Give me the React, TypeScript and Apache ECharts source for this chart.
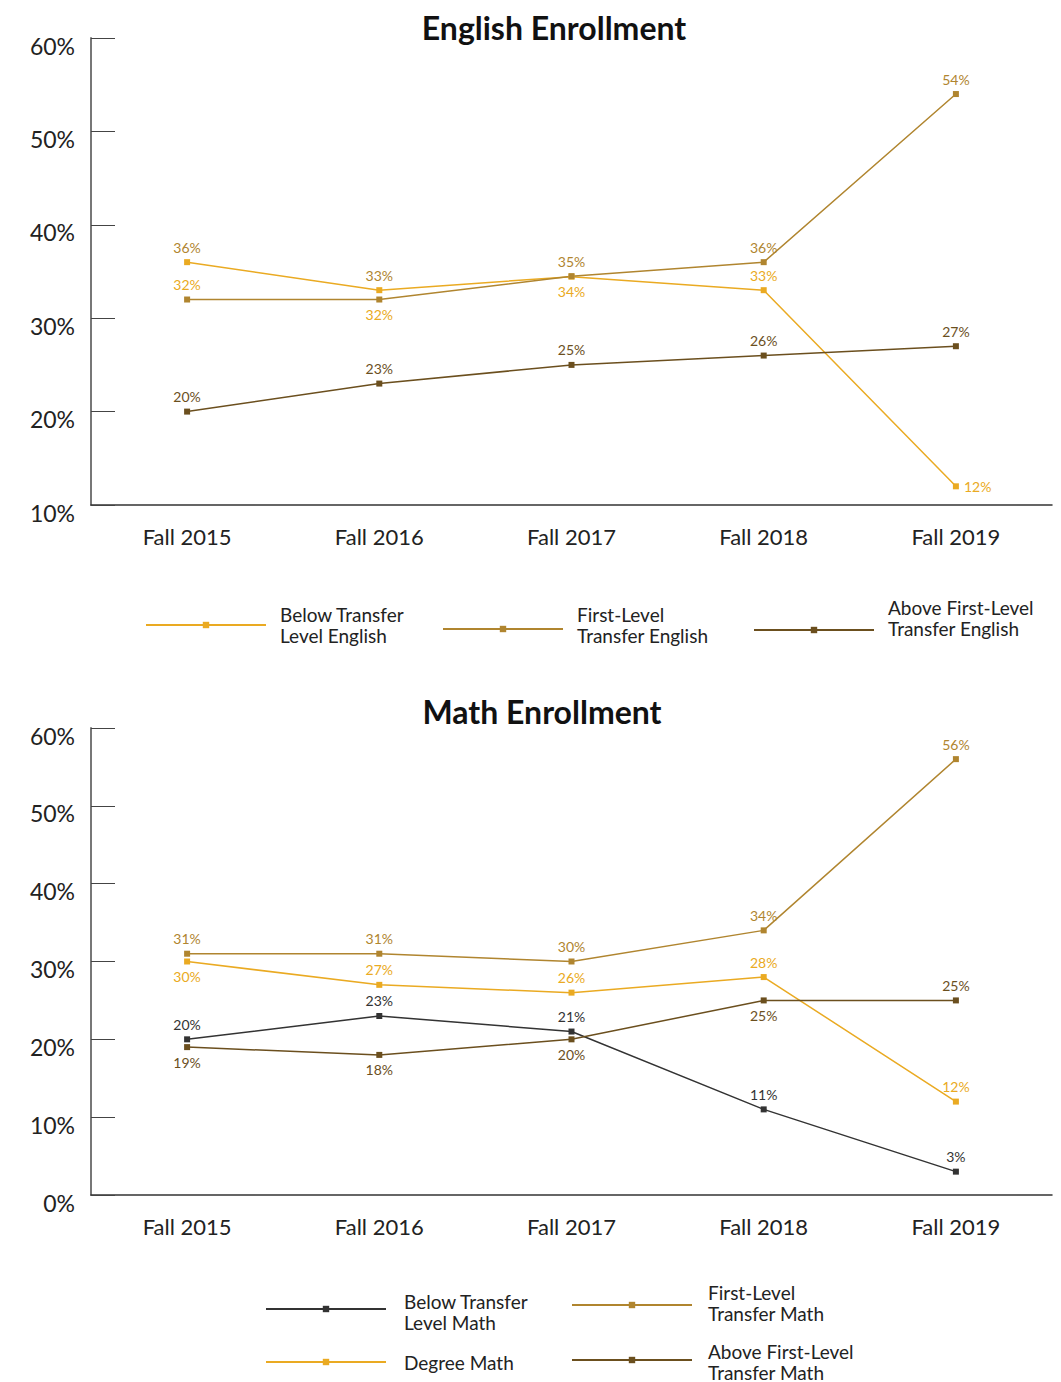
import React, { useEffect, useRef } from "react";
import * as echarts from "echarts";

const categories = ["Fall 2015", "Fall 2016", "Fall 2017", "Fall 2018", "Fall 2019"];

// English enrollment (%)
const belowTransferEnglish = [36, 33, 34.45, 33, 12];
const firstLevelEnglish = [32, 32, 34.5, 36, 54];
const aboveFirstLevelEnglish = [20, 23, 25, 26, 27];

// Math enrollment (%)
const belowTransferMath = [20, 23, 21, 11, 3];
const degreeMath = [30, 27, 26, 28, 12];
const firstLevelMath = [31, 31, 30, 34, 56];
const aboveFirstLevelMath = [19, 18, 20, 25, 25];

// label placement per point
const belowEngPos = ["top", "top", "bottom", "top", "right"];
const firstEngPos = ["top", "bottom", "top", "top", "top"];
const degreeMathPos = ["bottom", "top", "top", "top", "top"];
const aboveMathPos = ["bottom", "bottom", "bottom", "bottom", "top"];

const YELLOW = "#EAAA22";
const GOLD = "#B0852F";
const BROWN = "#6B4F1E";
const GRAY = "#333333";
const FONT = "Lato";

const fmt = (p: any) => Math.round(p.value) + "%";

function buildData(vals: number[], pos?: string[], colors?: (string | null)[]) {
  return vals.map((v, i) => {
    const label: any = {};
    if (pos) label.position = pos[i];
    if (colors && colors[i]) label.color = colors[i];
    return { value: v, label };
  });
}

function lineSeries(name: string, color: string, data: any[], xi: number) {
  return {
    name,
    type: "line",
    xAxisIndex: xi,
    yAxisIndex: xi,
    data,
    symbol: "rect",
    symbolSize: 6,
    lineStyle: { color, width: 1.5 },
    itemStyle: { color },
    label: {
      show: true,
      position: "top",
      distance: 5,
      formatter: fmt,
      color,
      fontFamily: FONT,
      fontSize: 14,
    },
  };
}

const displayNames: Record<string, string> = {
  "Below Transfer Level English": "Below Transfer\nLevel English",
  "First-Level Transfer English": "First-Level\nTransfer English\n{s9| }",
  "Above First-Level Transfer English": "Above First-Level\nTransfer English\n{s24| }",
  "Below Transfer Level Math": "{s5| }\nBelow Transfer\nLevel Math",
  "Degree Math": "Degree Math",
  "First-Level Transfer Math": "First-Level\nTransfer Math\n{s5| }",
  "Above First-Level Transfer Math": "{s3| }\nAbove First-Level\nTransfer Math",
};

const spacers: any = {
  s3: { lineHeight: 3, fontSize: 2 },
  s5: { lineHeight: 5, fontSize: 2 },
  s9: { lineHeight: 9, fontSize: 2 },
  s24: { lineHeight: 24, fontSize: 2 },
};

function legendItem(name: string, left: number, top: number, padLeft: number) {
  return {
    data: [name],
    left,
    top,
    padding: 0,
    itemWidth: 120,
    itemHeight: 8,
    selectedMode: false,
    formatter: (n: string) => displayNames[n],
    textStyle: {
      fontFamily: FONT,
      fontSize: 19,
      lineHeight: 21,
      color: "#222",
      padding: [0, 0, 0, padLeft],
      rich: spacers,
    },
  };
}

function xAxis(gi: number) {
  return {
    type: "category",
    gridIndex: gi,
    data: categories,
    boundaryGap: true,
    axisLine: { lineStyle: { color: "#333", width: 1.5 } },
    axisTick: { inside: true, length: 12, lineStyle: { color: "#444", width: 1.5 } },
    axisLabel: { fontFamily: FONT, fontSize: 22, color: "#222", margin: 20 },
    splitLine: { show: false },
  };
}

function yAxis(gi: number, min: number) {
  return {
    type: "value",
    gridIndex: gi,
    min,
    max: 60,
    interval: 10,
    axisLine: { show: true, lineStyle: { color: "#777", width: 2 } },
    axisTick: { show: true, inside: true, length: 24, lineStyle: { color: "#444", width: 1 } },
    axisLabel: {
      formatter: "{value}%",
      fontFamily: FONT,
      fontSize: 23,
      color: "#222",
      margin: 16,
      verticalAlign: "top",
      lineHeight: 15,
    },
    splitLine: { show: false },
  };
}

export default function App() {
  const ref = useRef<HTMLDivElement>(null);
  useEffect(() => {
    if (!ref.current) return;
    const chart = echarts.init(ref.current, null, { renderer: "svg" });
    chart.setOption({
      animation: false,
      backgroundColor: "#fff",
      title: [
        {
          text: "English Enrollment",
          left: 549,
          textAlign: "center",
          top: 6,
          textStyle: { fontFamily: FONT, fontSize: 32, fontWeight: "bold", color: "#111" },
        },
        {
          text: "Math Enrollment",
          left: 537,
          textAlign: "center",
          top: 690,
          textStyle: { fontFamily: FONT, fontSize: 32, fontWeight: "bold", color: "#111" },
        },
      ],
      grid: [
        { left: 91, right: 9, top: 38, height: 467 },
        { left: 91, right: 9, top: 728, height: 467 },
      ],
      xAxis: [xAxis(0), xAxis(1)],
      yAxis: [yAxis(0, 10), yAxis(1, 0)],
      legend: [
        legendItem("Below Transfer Level English", 145, 604, 9),
        legendItem("First-Level Transfer English", 442, 603.5, 9),
        legendItem("Above First-Level Transfer English", 753, 597, 9),
        legendItem("Below Transfer Level Math", 265, 1285.5, 13),
        legendItem("Degree Math", 265, 1351.5, 13),
        legendItem("First-Level Transfer Math", 571, 1281.5, 11),
        legendItem("Above First-Level Transfer Math", 571, 1337.5, 11),
      ],
      series: [
        lineSeries(
          "Below Transfer Level English",
          YELLOW,
          buildData(belowTransferEnglish, belowEngPos, [GOLD, GOLD, null, null, null]),
          0
        ),
        lineSeries(
          "First-Level Transfer English",
          GOLD,
          buildData(firstLevelEnglish, firstEngPos, [YELLOW, YELLOW, null, null, null]),
          0
        ),
        lineSeries("Above First-Level Transfer English", BROWN, buildData(aboveFirstLevelEnglish), 0),
        lineSeries("Below Transfer Level Math", GRAY, buildData(belowTransferMath), 1),
        lineSeries("Degree Math", YELLOW, buildData(degreeMath, degreeMathPos), 1),
        lineSeries("First-Level Transfer Math", GOLD, buildData(firstLevelMath), 1),
        lineSeries("Above First-Level Transfer Math", BROWN, buildData(aboveFirstLevelMath, aboveMathPos), 1),
      ],
    });
    return () => chart.dispose();
  }, []);
  return (
    <div
      ref={ref}
      style={{ position: "absolute", left: 0, top: 0, width: 1061, height: 1382 }}
    />
  );
}
